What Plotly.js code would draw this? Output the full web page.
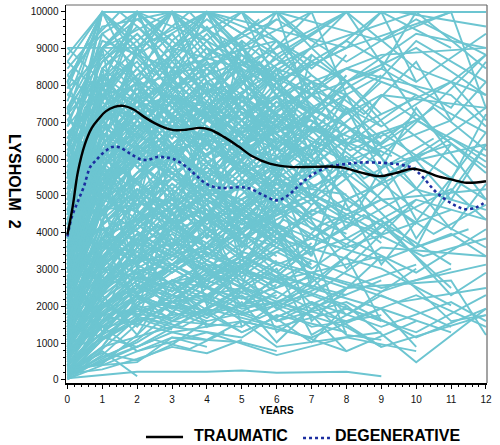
<!DOCTYPE html>
<html>
<head>
<meta charset="utf-8">
<script src="https://cdn.plot.ly/plotly-3.0.1.min.js"></script>
<style>html,body{margin:0;padding:0;background:#fff;}#chart{width:500px;height:445px;}</style>
</head>
<body>
<div id="chart"></div>
<script>
// Individual patient trajectories: flat lists [year, Lysholm score, year, score, ...]
// Plotted value is the squared Lysholm score (LYSHOLM²).
const highResponders = [
  [0,95, 1,95, 2,100, 3,100, 5,95],
  [0,90, 1,100, 2,100, 3,95, 4,100, 6,90],
  [0,85, 1,100, 2,90, 3,100, 4,95],
  [0,80, 1,95, 2,100, 4,100, 5,90, 7,95],
  [0,75, 1,100, 3,100, 4,90, 6,95, 8,100],
  [0,70, 1,90, 2,100, 3,95, 5,100, 6,100, 7,85],
  [0,65, 1,95, 2,95, 3,100, 4,100, 5,95, 7,100, 9,100, 10,90],
  [0,88, 1,95, 2,90, 3,94, 4,100],
  [0,92, 0.5,95, 1,100, 2,95, 3,100, 4,100, 5,100, 6,94],
  [0,60, 1,85, 2,100, 3,90, 4,95, 6,90, 8,95, 9,100],
  [0,78, 1,100, 2,100, 3,100, 4,95, 5,85, 7,90, 9,94, 12,95],
  [0,83, 1,90, 2,95, 3,90, 4,100, 5,100, 6,90, 8,100, 9.5,100, 12,98],
  [0,72, 0.5,85, 1,95, 2,100, 3,89, 5,93, 6,100, 7,100, 8,88],
  [0,68, 1,80, 2,95, 3,100, 4,85, 5,95, 7,80, 9,90],
  [0,95, 1,90, 2,100, 3,100, 4,90],
  [0,50, 1,90, 2,100, 3,95, 5,92, 6,80, 8,90, 10,95, 12,88],
  [0,87, 1,100, 2,95, 4,100, 5,90, 7,100, 8,100, 10,85],
  [0,76, 1,92, 2,96, 3,88, 4,94, 6,100, 7,95, 9,85, 11,90, 12,94],
  [0,93, 1,100, 2,100, 3,90, 4,100, 5,94, 6,90, 8,95],
  [0,58, 1,88, 2,94, 3,100, 4,100, 6,96, 7,88, 9,92, 10,100, 12,100],
  [0,74, 1,92, 2,88, 3,94, 4,88, 5,95, 6,90],
  [0,63, 1,89, 2,93, 3,86, 4,92, 5,88, 6,94, 7,89],
  [0,68, 1,90, 2,86, 3,91, 4,96, 5,89, 6,85],
  [0,57, 1,85, 2,91, 3,95, 4,89, 5,86, 6,92, 8,88],
  [0,81, 1,93, 2,97, 3,92, 4,87, 5,93, 7,88, 8,94],
  [0,46, 1,76, 2,84, 3,89, 4,93, 5,87, 6,83],
  [0,89, 1,94, 2,88, 3,96, 4,92, 5,86, 6,91],
  [0,71, 1,87, 2,94, 3,89, 5,95, 6,88, 7,93],
  [0,54, 1,83, 2,89, 3,85, 4,91, 5,84, 6,89, 7,85, 9,91],
  [0,79, 1,91, 2,85, 3,90, 4,95, 5,91, 6,86, 8,92, 10,88],
  [0,64, 0.5,78, 1.5,89, 2.5,93, 3.5,88, 4.5,94, 5.5,89, 6.5,93],
  [0,86, 0.5,91, 1.5,96, 2.5,91, 3.5,96, 4.5,90, 5.5,95, 7,90],
  [0,51, 0.5,70, 1.5,84, 2.5,90, 3.5,85, 4.5,81, 5.5,87, 6.5,82, 7.5,88],
  [0,77, 0.5,86, 1.5,92, 2.5,87, 3.5,82, 4.5,88, 5.5,93, 6.5,87, 8,83],
  [0,42, 0.5,62, 1.5,78, 2.5,86, 3.5,91, 4.5,86, 5.5,80, 6.5,85],
  [0,86, 1,93, 2,98, 3,93, 4,98, 5,92],
  [0,91, 1,97, 2,92, 3,97, 4,91, 5,96, 6,92],
  [0,94, 1,100, 2,96, 3,100, 4,96, 5,100],
  [0,80, 1,97, 2,100, 3,96, 4,100, 5,97, 6,100, 7,96],
  [0,73, 1,95, 2,99, 3,95, 4,99, 5,95, 6,99],
  [0,67, 1,92, 2,97, 3,92, 4,97, 5,91, 6,96, 7,91],
  [0,89, 0.5,95, 1.5,100, 2.5,96, 3.5,100, 4.5,95, 5.5,99],
  [0,71, 0.5,84, 1.5,91, 2.5,97, 3.5,91, 4.5,96, 5.5,90, 6.5,95],
  [0,56, 1,82, 2,95, 3,100, 4,94, 6,99, 8,93, 10,99, 12,94],
  [0,63, 1,87, 2,100, 4,96, 6,90, 8,96, 10,90, 12,97],
  [0,74, 1,100, 2,94, 4,100, 6,94, 8,100, 10,92, 12,88]
];
const moderateResponders = [
  [0,70, 1,80, 2,85, 3,78, 4,82, 5,75, 7,80],
  [0,62, 1,75, 2,88, 3,85, 4,80, 6,72, 8,78],
  [0,55, 1,78, 2,82, 3,90, 4,86, 5,80, 7,84, 9,76, 11,80],
  [0,48, 1,72, 2,80, 3,76, 4,84, 5,88, 6,78],
  [0,66, 1,84, 2,76, 3,82, 5,90, 6,85, 8,80, 10,88, 12,82],
  [0,74, 1,86, 2,90, 3,84, 4,78, 5,82, 6,88, 7,74],
  [0,58, 0.5,70, 1,82, 2,78, 3,86, 4,90, 6,84, 7,79, 9,85],
  [0,80, 1,88, 2,84, 3,92, 4,86, 5,78, 6,83, 8,70, 10,76],
  [0,45, 1,68, 2,75, 3,80, 4,72, 5,79, 7,85, 8,76],
  [0,64, 1,79, 2,86, 3,81, 4,89, 5,84, 6,76, 7,82, 9,88, 12,86],
  [0,52, 1,74, 2,68, 3,77, 4,83, 5,74, 6,80],
  [0,71, 1,83, 2,79, 3,74, 4,80, 5,86, 7,77, 8,83, 10,72, 11,80],
  [0,60, 1,70, 2,80, 3,87, 4,77, 6,83, 7,88, 9,78],
  [0,77, 1,82, 2,88, 3,80, 4,85, 5,90, 6,86],
  [0,40, 1,66, 2,78, 3,84, 4,79, 5,86, 6,82, 8,88],
  [0,69, 1,76, 2,83, 3,88, 4,82, 5,76, 6,84, 7,90, 8,80, 10,84, 12,78],
  [0,56, 1,80, 2,87, 3,79, 4,75, 5,81, 6,74, 8,82],
  [0,82, 1,87, 2,80, 3,85, 4,90, 6,82, 7,86, 9,80],
  [0,63, 1,73, 2,84, 3,77, 4,87, 5,83, 7,78, 8,86, 9,81],
  [0,50, 1,62, 2,74, 3,82, 4,86, 5,79, 6,85, 8,77, 11,84],
  [0,73, 0.6,80, 1.2,86, 2.2,82, 3.1,88, 4.3,80, 5.5,85, 6.6,78],
  [0,67, 0.4,74, 1.3,81, 2.4,87, 3.5,83, 4.6,77, 5.7,84, 7.2,80, 8.7,87],
  [0,54, 0.7,69, 1.6,79, 2.6,85, 3.7,79, 4.8,86, 6.2,81, 7.6,75],
  [0,79, 0.8,84, 1.8,89, 2.8,83, 3.9,87, 5.1,81, 6.4,87, 7.8,82, 9.3,78],
  [0,61, 0.5,72, 1.5,77, 2.5,84, 3.4,80, 4.5,74, 5.4,80, 6.5,86, 8.1,79, 9.6,83, 11.2,76],
  [0,44, 0.6,63, 1.4,74, 2.3,81, 3.3,76, 4.2,83, 5.3,78, 6.8,84],
  [0,75, 0.5,81, 1.5,75, 2.5,80, 3.6,86, 4.7,81, 5.9,77, 7.1,83, 8.5,74, 10.5,81],
  [0,59, 0.4,68, 1.4,76, 2.7,81, 3.8,75, 4.9,82, 6.1,79, 7.4,84],
  [0,84, 0.7,90, 1.7,86, 2.9,90, 4.1,84, 5.2,89, 6.3,83],
  [0,47, 0.8,66, 1.9,73, 3.2,80, 4.4,74, 5.6,81, 6.9,76, 8.3,82, 9.8,77, 12,80],
  [0,67, 1,82, 2,76, 3,70, 4,76, 5,72, 6,78, 7,73],
  [0,59, 1,77, 2,71, 3,78, 4,73, 5,69, 6,75, 7,71, 8,76],
  [0,73, 1,79, 2,73, 3,68, 4,74, 5,79, 6,70, 7,76],
  [0,48, 1,70, 2,77, 3,72, 4,67, 5,74, 6,69],
  [0,62, 1,72, 2,77, 3,71, 4,77, 5,72, 6,67, 7,73, 8,68],
  [0,34, 1,59, 2,71, 3,76, 4,70, 5,76, 6,71],
  [0,70, 1,67, 2,74, 3,80, 4,71, 5,77, 6,73, 8,71],
  [0,56, 1,72, 2,64, 3,71, 4,65, 5,71, 6,77, 7,70],
  [0,44, 1,66, 2,72, 3,67, 4,73, 5,68, 6,73],
  [0,78, 1,76, 2,70, 3,76, 4,71, 5,66, 6,72, 7,67, 9,73],
  [0,88, 1,86, 2,92, 3,86, 4,82, 5,88, 6,84, 7,90, 8,85],
  [0,93, 1,88, 2,83, 3,88, 4,84, 5,80, 6,87],
  [0,82, 1,78, 2,84, 3,79, 4,86, 5,81, 6,76, 7,83],
  [0,91, 1,86, 2,81, 3,87, 4,82, 5,88, 6,83, 7,78],
  [0,84, 1,81, 2,77, 3,83, 4,78, 5,84, 6,79],
  [0,66, 1,81, 2,89, 3,83, 4,88, 5,82, 6,87],
  [0,72, 1,88, 2,82, 3,87, 4,93, 5,85, 6,80, 7,86],
  [0,58, 1,79, 2,85, 3,80, 4,85, 5,91, 6,86],
  [0,49, 1,74, 2,81, 3,87, 4,82, 5,77, 6,83, 7,88],
  [0,61, 1,76, 2,82, 3,77, 4,83, 5,78, 6,84],
  [0,76, 1,84, 2,79, 3,85, 4,80, 5,86, 6,81, 7,77],
  [0,53, 1,71, 2,78, 3,84, 4,78, 5,84, 6,79],
  [0,81, 1,89, 2,94, 3,89, 4,84, 5,90, 6,85],
  [0,69, 1,86, 2,92, 3,87, 4,82, 5,87, 6,92, 7,86],
  [0,44, 1,69, 2,77, 3,72, 4,78, 5,73, 6,78],
  [0,57, 1,75, 2,69, 3,75, 4,70, 5,76, 6,71, 7,77],
  [0,85, 1,91, 2,87, 3,93, 4,88, 5,94, 6,89, 7,94, 8,90],
  [0,62, 1,84, 2,90, 3,84, 4,90, 5,84, 6,90, 7,85, 8,91],
  [0,55, 1,80, 2,86, 3,81, 4,87, 5,81, 6,87, 7,82, 8,88, 9,83],
  [0,47, 1,72, 2,79, 3,74, 4,80, 5,75, 6,81, 7,76, 8,81],
  [0,70, 1,78, 2,73, 3,79, 4,74, 5,80, 6,75, 7,80, 8,74, 9,79],
  [0,78, 0.5,88, 1.5,93, 2.5,88, 3.5,93, 4.5,87, 5.5,92, 6.5,86],
  [0,65, 0.5,80, 1.5,87, 2.5,81, 3.5,87, 4.5,82, 5.5,76, 6.5,82],
  [0,60, 0.5,74, 1.5,83, 2.5,89, 3.5,83, 4.5,89, 5.5,83, 6.5,89, 7.5,84]
];
const lowResponders = [
  [0,35, 1,55, 2,65, 3,70, 4,62, 5,68, 6,74, 8,66],
  [0,42, 1,60, 2,70, 3,64, 4,72, 5,66, 6,60, 7,69],
  [0,30, 1,50, 2,62, 3,69, 4,74, 5,65, 7,71, 9,63],
  [0,50, 1,58, 2,66, 3,73, 4,68, 5,61, 6,70, 8,75, 10,65],
  [0,38, 1,57, 2,68, 3,60, 4,67, 5,73, 6,65, 7,58],
  [0,46, 1,64, 2,59, 3,67, 4,71, 5,64, 7,70, 8,62, 10,70, 12,66],
  [0,33, 1,52, 2,61, 3,58, 4,66, 5,70, 6,63],
  [0,55, 1,65, 2,72, 3,66, 4,60, 5,68, 6,72, 7,64, 9,70],
  [0,28, 1,48, 2,60, 3,66, 4,58, 5,64, 6,70, 8,60, 11,68],
  [0,43, 1,59, 2,67, 3,74, 4,69, 5,63, 6,71, 7,66],
  [0,37, 0.5,50, 1.5,62, 2.5,68, 3.5,63, 4.5,70, 5.5,65, 6.5,59, 7.5,67],
  [0,49, 0.5,57, 1.5,66, 2.5,61, 3.5,69, 4.5,64, 5.5,71, 6.5,66, 8.2,60, 9.7,68],
  [0,32, 0.6,46, 1.6,58, 2.6,65, 3.6,61, 4.6,68, 5.8,62, 7.3,69],
  [0,53, 0.7,63, 1.7,69, 2.7,64, 3.8,71, 4.8,66, 6.0,61, 7.0,68, 8.6,64, 10.2,58, 12,62],
  [0,41, 0.8,56, 1.8,64, 2.8,70, 3.9,65, 5.0,59, 6.2,66, 7.7,60],
  [0,26, 0.9,45, 2.0,57, 3.0,64, 4.0,60, 5.2,67, 6.4,61],
  [0,57, 1,67, 2,61, 3,68, 4,73, 5,67, 6,62, 7.5,69, 9,61],
  [0,36, 1,54, 2,63, 3,59, 4,66, 5,62, 6.5,68, 8,63],
  [0,45, 1,61, 2,56, 3,64, 4,69, 5,60, 6,65, 7,60, 8.5,67, 10,60, 11.5,64],
  [0,29, 1,49, 2,58, 3,63, 4,57, 5,63, 6,58],
  [0,39, 1,62, 2,58, 3,65, 4,60, 5,66, 6,61],
  [0,27, 1,53, 2,63, 3,57, 4,63, 5,57, 6,64],
  [0,47, 1,56, 2,62, 3,56, 4,63, 5,58, 6,53, 7,60],
  [0,31, 1,51, 2,57, 3,62, 4,55, 5,61, 6,56],
  [0,53, 1,62, 2,56, 3,62, 4,57, 5,53, 6,59, 7,55],
  [0,23, 1,46, 2,55, 3,60, 4,54, 5,59, 7,54],
  [0,40, 1,53, 2,49, 3,56, 4,61, 5,55, 6,50, 7,57],
  [0,35, 1,47, 2,53, 3,59, 4,52, 5,57, 6,52],
  [0,60, 1,64, 2,58, 3,54, 4,59, 5,54, 6,60, 7,55],
  [0,26, 1,43, 2,51, 3,56, 4,51, 5,56, 6,62],
  [0,64, 1,71, 2,66, 3,73, 4,68, 5,63, 6,69],
  [0,51, 1,65, 2,71, 3,65, 4,61, 5,67, 6,73, 7,67],
  [0,33, 1,56, 2,65, 3,60, 4,66, 5,61, 6,67],
  [0,46, 1,58, 2,64, 3,69, 4,63, 5,69, 6,64],
  [0,28, 1,50, 2,60, 3,55, 4,61, 5,67, 6,61],
  [0,41, 1,57, 2,52, 3,58, 4,64, 5,58, 6,54, 7,61],
  [0,59, 1,67, 2,73, 3,68, 4,74, 5,69, 6,74, 7,69, 8,74],
  [0,43, 1,60, 2,66, 3,61, 4,67, 5,62, 6,68, 7,62, 8,67],
  [0,52, 0.5,68, 1.5,76, 2.5,71, 3.5,77, 4.5,72, 5.5,78, 6.5,73],
  [0,39, 0.5,55, 1.5,66, 2.5,61, 3.5,67, 4.5,61, 5.5,67, 6.5,62],
  [0,48, 0.5,63, 1.5,72, 2.5,78, 3.5,72, 4.5,78, 5.5,73, 6.5,78],
  [0,35, 0.5,51, 1.5,63, 2.5,70, 3.5,64, 4.5,70, 5.5,65],
  [0,38, 1,63, 2,70, 3,66, 4,71, 5,77, 6,72]
];
const poorResponders = [
  [0,20, 1,38, 2,45, 3,52, 4,48, 5,55, 6,50],
  [0,25, 1,42, 2,50, 3,46, 4,53, 5,58, 7,50],
  [0,15, 1,35, 2,48, 3,56, 4,52, 5,58],
  [0,30, 1,40, 2,48, 3,55, 4,50, 5,45, 6,53, 8,48],
  [0,22, 1,36, 2,44, 3,40, 4,47, 5,43, 6,49, 7,44, 9,52],
  [0,18, 1,33, 2,40, 3,45, 4,42, 6,48],
  [0,34, 1,45, 2,52, 3,48, 4,55, 5,50, 6,56, 8,50, 10,56],
  [0,27, 1,40, 2,47, 3,43, 4,50, 5,47, 7,53],
  [0,12, 1,30, 2,46, 3,52, 4,50, 5,55],
  [0,39, 1,48, 2,55, 3,51, 4,57, 5,52, 6,47, 7,54, 9,49, 11,55],
  [0,24, 0.5,34, 1.5,42, 2.5,48, 3.5,44, 4.5,51],
  [0,31, 0.6,41, 1.6,49, 2.6,45, 3.6,52, 4.6,48, 5.7,54, 6.8,49],
  [0,17, 0.7,31, 1.7,39, 2.7,46, 3.7,42, 4.9,49, 6.1,45, 7.4,51],
  [0,21, 1.0,34, 2.2,41, 3.3,38, 4.4,45, 5.5,41, 6.7,47],
  [0,36, 1,44, 2,51, 3,47, 4.2,53, 5.4,49, 6.6,55, 8.0,51, 9.5,46, 12,50],
  [0,10, 1,25, 2,32, 3,40, 5,38],
  [0,8, 1,30, 2,47, 3,52, 4,56],
  [0,14, 1,22, 2,30, 3,36, 4,33, 5,40, 6,37],
  [0,5, 1,20, 2,28, 3,34, 4,30],
  [0,12, 1,28, 2,10],
  [0,20, 1,36, 2,48, 3,44, 4,52, 5,49],
  [0,9, 0.5,18, 1.5,27, 2.5,33, 3.5,29, 4.5,36],
  [0,16, 1,40, 2,50, 3,55, 4,50, 5,56],
  [0,7, 2,15, 4,15, 5,16, 6,14, 8,15, 9,10],
  [0,22, 1,44, 2,52, 3,48, 4,54, 5,58],
  [0,13, 1,17, 2,24, 3,30, 4,27, 5,33],
  [0,19, 1,45, 2,53, 3,49, 4,55],
  [0,11, 1,33, 2,44, 3,39],
  [0,6, 1,35, 1.5,43, 3,41],
  [0,18, 2,22, 3,34, 5,32, 6,28],
  [0,24, 1,44, 2,54, 3,49, 4,56, 5,51, 6,57],
  [0,37, 1,49, 2,56, 3,51, 4,47, 5,54, 6,49],
  [0,19, 1,39, 2,48, 3,44, 4,50, 5,45, 6,51],
  [0,14, 1,33, 2,45, 3,41, 4,47, 5,43],
  [0,9, 1,26, 2,39, 3,46, 4,43],
  [0,4, 1,24, 2,33, 3,43, 4,39],
  [0,11, 1,42, 2,50, 3,56],
  [0,7, 0.5,20, 1,29, 2,41, 3,37],
  [0,17, 1,27, 2,23, 3,31, 4,40],
  [0,15, 1,21, 2,35, 3,46, 4,41, 5,48],
  [0,32, 1,52, 2,59, 3,54, 4,60, 5,55, 6,61, 7,56],
  [0,27, 0.5,44, 1.5,56, 2.5,51, 3.5,57, 4.5,52, 5.5,58],
  [0,30, 1,45, 3,52, 5,44, 7,48, 9,40],
  [0,25, 1,40, 3,46, 5,50, 7,42, 8,28],
  [0,35, 2,48, 4,40, 6,45, 8,38, 9,30],
  [0,20, 1,42, 3,36, 5,40, 7,34, 9,44, 10,30],
  [0,40, 2,50, 4,46, 6,38, 8,44, 10,36, 12,48],
  [0,28, 1,35, 3,48, 5,36, 7,46, 9,38, 11,46, 12,40],
  [0,45, 1,55, 3,50, 5,42, 7,50, 9,44, 11,36],
  [0,15, 1,30, 3,38, 5,34, 6,42, 8,36]
];
const irregularCourses = [
  [0,45, 1,70, 2,40, 3,65, 5,45, 7,60, 8,35],
  [0,60, 1,50, 3,72, 4,45, 6,62, 8,42, 10,55],
  [0,30, 1,65, 2,48, 4,70, 5,38, 7,52],
  [0,55, 1,85, 2,60, 3,80, 5,50, 6,75, 8,55, 10,70],
  [0,70, 1,95, 2,65, 4,90, 5,60, 7,85, 9,62],
  [0,40, 2,58, 4,42, 6,55, 7,35, 9,48, 11,38],
  [0,25, 1,55, 3,40, 5,48, 7,32, 8,45],
  [0,50, 1,40, 2,62, 3,46, 5,58, 6,36, 8,50],
  [0,65, 1,75, 2,55, 3,78, 4,58, 6,72, 7,50, 9,65, 11,50],
  [0,35, 1,45, 3,38, 5,50, 6,40, 8,46, 10,34, 12,44],
  [0,80, 1,70, 2,90, 3,65, 4,85, 6,68, 8,88, 10,66],
  [0,90, 1,75, 2,95, 4,72, 6,92, 7,70, 9,88, 12,76],
  [0,48, 1,82, 2,56, 3,85, 4,62, 5,88, 7,58, 8,80],
  [0,22, 1,48, 2,35, 3,52, 4,38, 5,46, 6,32, 7,44],
  [0,58, 1,36, 2,55, 3,42, 4,60, 6,44, 8,58, 9,40],
  [0,75, 1,55, 2,80, 3,60, 4,82, 5,58, 6,78, 8,62],
  [0,42, 1,78, 2,50, 4,82, 5,55, 7,80, 9,56, 11,74],
  [0,62, 1,92, 2,70, 3,95, 4,72, 5,96, 6,74, 7,94],
  [0,38, 2,30, 4,44, 6,38, 8,28, 10,40],
  [0,52, 1,46, 2,38, 3,50, 5,36, 7,46, 9,30, 12,42],
  [0,86, 1,65, 2,88, 3,70, 5,92, 6,64, 8,86, 10,62, 12,80],
  [0,33, 1,62, 2,44, 3,68, 4,46, 6,64, 7,40, 9,58],
  [0,68, 1,48, 2,72, 4,50, 5,74, 7,52, 8,70, 11,56],
  [0,28, 1,38, 2,28, 4,36, 6,26, 8,34, 10,28],
  [0,47, 1,90, 2,68, 3,92, 4,66, 6,90, 8,64, 10,86, 12,70]
];
const longFollowUp = [
  [0,70, 2,85, 5,90, 8,100, 9.5,100, 12,100],
  [0,60, 1,80, 3,75, 6,85, 9,78, 12,94],
  [0,50, 1,70, 3,65, 7,80, 10,60, 12,85],
  [0,40, 1,55, 4,60, 7,70, 10,85, 12,75],
  [0,33, 2,50, 5,55, 8,45, 10,22, 12,44],
  [0,45, 1,60, 4,68, 8,35, 9,33],
  [0,55, 2,65, 6,40, 8,50, 11,52, 12,35],
  [0,65, 2,78, 5,68, 8,90, 11,70, 12,80],
  [0,80, 2,90, 4,85, 7,95, 10,100, 12,92],
  [0,85, 1,95, 3,100, 6,100, 9,96, 11,100, 12,100],
  [0,62, 1,74, 3,80, 6,62, 9,55, 11,45],
  [0,38, 1,52, 4,58, 7,48, 9,60, 12,58],
  [0,48, 2,62, 5,50, 7,38, 9,42],
  [0,72, 2,80, 4,70, 7,60, 10,72, 12,68],
  [0,28, 1,42, 4,48, 6,30, 9,36],
  [0,90, 1,100, 4,100, 8,95, 11,100, 12,86],
  [0,76, 1,88, 5,94, 8,85, 10,96, 12,90],
  [0,58, 2,75, 6,88, 9,70, 12,72],
  [0,66, 1,86, 5,80, 8,92, 11,88, 12,83],
  [0,52, 1,68, 5,72, 7,55, 9,66, 11,48, 12,54],
  [0,55, 1,75, 3,82, 6,78, 7.5,88, 9,80, 10.5,86, 12,79],
  [0,45, 1,68, 3,74, 5,70, 7,76, 8.5,68, 10,78, 12,70],
  [0,68, 1,84, 3,88, 5,84, 7,91, 8.5,85, 10,93, 11,84, 12,90],
  [0,35, 1,58, 3,64, 5,68, 7,62, 9,70, 10.5,63, 12,69],
  [0,75, 1,89, 3,85, 5,92, 7,86, 9,92, 11,86, 12,93],
  [0,50, 2,72, 4,66, 6,74, 8,68, 9.5,76, 11,64, 12,73],
  [0,60, 1,78, 4,80, 6,70, 8,78, 10,68, 12,60],
  [0,83, 1,96, 3,92, 6,96, 8,90, 10,97, 12,95],
  [0,42, 1,64, 4,70, 6,56, 8,62, 10,54, 12,64],
  [0,30, 1,50, 3,58, 6,52, 9,58, 11,40, 12,42],
  [0,20, 1,38, 3,42, 6,46, 8,40, 10,48, 12,38],
  [0,65, 1,85, 3,78, 5,86, 7,72, 9,82, 11,74, 12,82],
  [0,90, 1,98, 3,100, 5,100, 7,92, 9,100, 11,95],
  [0,57, 1,73, 3,85, 5,76, 7,83, 9,74, 11,82, 12,86],
  [0,38, 1,60, 3,56, 5,63, 7,57, 9,50, 12,56],
  [0,50, 1,77, 3,88, 5,82, 7,89, 9,83, 11,90, 12,84],
  [0,42, 1,70, 3,78, 5,72, 7,80, 9,74, 11,81, 12,77],
  [0,36, 1,62, 3,70, 5,64, 7,71, 9,65, 11,72, 12,66],
  [0,29, 1,54, 3,61, 5,56, 7,62, 9,57, 11,63, 12,58]
];

// Smoothed group means (LYSHOLM² units)
const traumaticYears = [0, 0.15, 0.3, 0.5, 0.7, 0.9, 1.1, 1.35, 1.6, 1.9, 2.2, 2.5, 2.8, 3.05, 3.4, 3.8, 4.1, 4.5, 4.9, 5.3, 5.8, 6.4, 7.0, 7.5, 7.9, 8.4, 8.95, 9.4, 9.9, 10.3, 10.6, 11.0, 11.45, 12];
const traumaticMean = [3950, 4700, 5650, 6400, 6850, 7100, 7300, 7420, 7450, 7350, 7150, 6980, 6850, 6790, 6800, 6850, 6800, 6600, 6350, 6080, 5880, 5790, 5790, 5800, 5770, 5640, 5540, 5620, 5740, 5650, 5540, 5450, 5360, 5400];
const degenerativeYears = [0, 0.13, 0.3, 0.47, 0.66, 0.8, 1.0, 1.28, 1.5, 1.8, 2.09, 2.3, 2.57, 2.8, 3.05, 3.43, 3.7, 4.0, 4.38, 4.96, 5.24, 5.6, 6.0, 6.3, 6.6, 6.96, 7.5, 8.0, 8.4, 9.06, 9.54, 9.9, 10.2, 10.6, 11.16, 11.45, 11.75, 12];
const degenerativeMean = [3900, 4440, 4850, 5250, 5800, 5950, 6150, 6330, 6320, 6150, 6000, 5980, 6060, 6050, 6000, 5780, 5550, 5320, 5220, 5240, 5200, 5030, 4880, 5000, 5250, 5540, 5800, 5870, 5910, 5900, 5850, 5760, 5500, 5080, 4720, 4640, 4700, 4850];

const legendNames = ['TRAUMATIC', 'DEGENERATIVE'];
const axisTitles = {x: 'YEARS', y: 'LYSHOLM  2'};

const sx = [], sy = [];
[highResponders, moderateResponders, lowResponders, poorResponders, irregularCourses, longFollowUp].forEach(group => {
  group.forEach(subj => {
    for (let i = 0; i < subj.length; i += 2) {
      sx.push(subj[i]);
      sy.push(subj[i + 1] * subj[i + 1]);
    }
    sx.push(null); sy.push(null);
  });
});

const traumaticColor = '#000000';
const degenerativeColor = '#1c2ea0';

const data = [
  {x: sx, y: sy, type: 'scatter', mode: 'lines', connectgaps: false,
   line: {color: '#6cc5d1', width: 1.9}, showlegend: false, hoverinfo: 'skip'},
  {x: degenerativeYears, y: degenerativeMean, type: 'scatter', mode: 'lines', name: legendNames[1],
   line: {color: degenerativeColor, width: 2.6, dash: 'dot', shape: 'spline', smoothing: 1}, showlegend: false},
  {x: traumaticYears, y: traumaticMean, type: 'scatter', mode: 'lines', name: legendNames[0],
   line: {color: traumaticColor, width: 2.4, shape: 'spline', smoothing: 1}, showlegend: false}
];

const boldFont = {family: 'Liberation Sans, Arial, sans-serif', size: 16, weight: 'bold', color: '#000'};
const tickFont = {family: 'Liberation Sans, Arial, sans-serif', size: 10, color: '#111'};
const layout = {
  width: 500, height: 445,
  margin: {l: 66, r: 13, t: 5, b: 62},
  paper_bgcolor: '#fff', plot_bgcolor: '#fff',
  showlegend: false,
  xaxis: {
    range: [-0.04, 12.03], tickmode: 'linear', tick0: 0, dtick: 1,
    ticks: 'outside', ticklen: 4, tickwidth: 1, tickcolor: '#000',
    showline: true, linecolor: '#000', linewidth: 1.5, showgrid: false, zeroline: false,
    tickfont: tickFont, ticklabelstandoff: 2, automargin: false,
    minor: {dtick: 0.2, ticks: 'outside', ticklen: 2, tickcolor: '#000', showgrid: false},
    title: {text: axisTitles.x, standoff: 3,
      font: {family: 'Liberation Sans, Arial, sans-serif', size: 10, weight: 'bold', color: '#000'}}
  },
  yaxis: {
    range: [-82, 10190], tickmode: 'linear', tick0: 0, dtick: 1000,
    ticks: 'outside', ticklen: 4, tickwidth: 1, tickcolor: '#000',
    showline: true, linecolor: '#000', linewidth: 1.5, showgrid: false, zeroline: false,
    tickfont: tickFont, tickformat: 'd', automargin: false,
    minor: {dtick: 200, ticks: 'outside', ticklen: 2, tickcolor: '#000', showgrid: false}
  },
  shapes: [
    {type: 'line', xref: 'paper', yref: 'paper', x0: 0, x1: 1, y0: 1, y1: 1, line: {color: '#666', width: 1}},
    {type: 'line', xref: 'paper', yref: 'paper', x0: 1, x1: 1, y0: 0, y1: 1, line: {color: '#666', width: 1.2}},
    // legend samples
    {type: 'line', xref: 'paper', yref: 'paper', x0: 0.190, x1: 0.278, y0: -0.1429, y1: -0.1429,
     line: {color: traumaticColor, width: 2.6}},
    {type: 'line', xref: 'paper', yref: 'paper', x0: 0.563, x1: 0.627, y0: -0.1455, y1: -0.1455,
     line: {color: degenerativeColor, width: 2.6, dash: 'dot'}}
  ],
  annotations: [
    {text: axisTitles.y, xref: 'paper', yref: 'paper', x: -0.121, y: 0.534,
     xanchor: 'center', yanchor: 'middle', textangle: 90, showarrow: false, font: boldFont},
    {text: legendNames[0], xref: 'paper', yref: 'paper', x: 0.299, y: -0.1376,
     xanchor: 'left', yanchor: 'middle', showarrow: false, font: boldFont},
    {text: legendNames[1], xref: 'paper', yref: 'paper', x: 0.634, y: -0.1376,
     xanchor: 'left', yanchor: 'middle', showarrow: false, font: boldFont}
  ]
};

Plotly.newPlot('chart', data, layout, {staticPlot: true, displayModeBar: false});
</script>
</body>
</html>
